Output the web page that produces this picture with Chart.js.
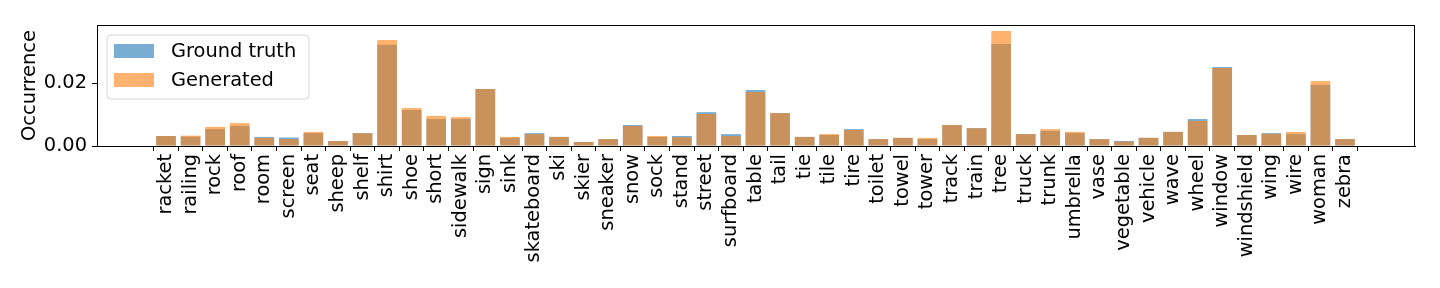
<!DOCTYPE html>
<html>
<head>
<meta charset="utf-8">
<script src="https://cdn.jsdelivr.net/npm/chart.js@4.4.0/dist/chart.umd.min.js"></script>
<style>
html,body{margin:0;padding:0;background:#fff;}
#wrap{width:1440px;height:288px;position:relative;}
</style>
</head>
<body>
<div id="wrap"><canvas id="c" width="1440" height="288"></canvas></div>
<script>
const categories = ["racket","railing","rock","roof","room","screen","seat","sheep","shelf","shirt","shoe","short","sidewalk","sign","sink","skateboard","ski","skier","sneaker","snow","sock","stand","street","surfboard","table","tail","tie","tile","tire","toilet","towel","tower","track","train","tree","truck","trunk","umbrella","vase","vegetable","vehicle","wave","wheel","window","windshield","wing","wire","woman","zebra"];
const groundTruth = [0.0032,0.0030,0.0054,0.0064,0.0029,0.0027,0.0041,0.0016,0.0041,0.0323,0.0115,0.0086,0.0086,0.0182,0.0026,0.0041,0.0029,0.0013,0.0022,0.0067,0.0029,0.0032,0.0108,0.0038,0.0179,0.0105,0.0029,0.0035,0.0054,0.0022,0.0026,0.0022,0.0067,0.0057,0.0325,0.0038,0.0048,0.0041,0.0022,0.0016,0.0026,0.0045,0.0086,0.0252,0.0035,0.0041,0.0038,0.0195,0.0022];
const generated = [0.0032,0.0033,0.0061,0.0073,0.0026,0.0022,0.0045,0.0016,0.0041,0.0338,0.0121,0.0096,0.0092,0.0182,0.0029,0.0038,0.0029,0.0013,0.0022,0.0064,0.0032,0.0028,0.0102,0.0032,0.0172,0.0105,0.0029,0.0038,0.0051,0.0022,0.0026,0.0026,0.0067,0.0057,0.0367,0.0038,0.0054,0.0045,0.0022,0.0014,0.0026,0.0045,0.0080,0.0249,0.0035,0.0039,0.0045,0.0207,0.0022];
const yTicks = [0, 0.02];
const seriesNames = ["Ground truth","Generated"];
const seriesColors = ["rgba(31,119,180,0.6)","rgba(255,127,14,0.6)"];

const FONT = "'DejaVu Sans', sans-serif";
const FS = 19.4;

const toPoints = arr => arr.map((v,i)=>({x:i,y:v}));

const framePlugin = {
  id:'frame',
  afterDatasetsDraw(chart){
    const {ctx, chartArea:a} = chart;
    ctx.save();
    ctx.strokeStyle = '#000';
    ctx.lineWidth = 1;
    ctx.strokeRect(Math.round(a.left)+0.5, Math.round(a.top)+0.5, Math.round(a.right-a.left)-1, Math.round(a.bottom-a.top));
    ctx.restore();
  },
  afterDraw(chart){
    const {ctx, chartArea:a} = chart;
    const x0 = a.left + 10, y0 = a.top + 10, w = 202, h = 64, r = 4;
    ctx.save();
    ctx.beginPath();
    ctx.moveTo(x0+r,y0); ctx.lineTo(x0+w-r,y0); ctx.quadraticCurveTo(x0+w,y0,x0+w,y0+r);
    ctx.lineTo(x0+w,y0+h-r); ctx.quadraticCurveTo(x0+w,y0+h,x0+w-r,y0+h);
    ctx.lineTo(x0+r,y0+h); ctx.quadraticCurveTo(x0,y0+h,x0,y0+h-r);
    ctx.lineTo(x0,y0+r); ctx.quadraticCurveTo(x0,y0,x0+r,y0); ctx.closePath();
    ctx.fillStyle = 'rgba(255,255,255,0.8)';
    ctx.fill();
    ctx.strokeStyle = 'rgba(204,204,204,0.8)';
    ctx.lineWidth = 1;
    ctx.stroke();
    ctx.font = FS + 'px ' + FONT;
    ctx.textBaseline = 'middle';
    ctx.textAlign = 'left';
    chart.data.datasets.forEach((ds,i)=>{
      const cy = y0 + 16 + i*29;
      ctx.fillStyle = ds.backgroundColor;
      ctx.fillRect(x0+7, cy-7, 40, 14);
      ctx.fillStyle = '#000';
      ctx.fillText(ds.label, x0+64, cy+1);
    });
    ctx.restore();
  }
};

new Chart(document.getElementById('c'), {
  type:'bar',
  data:{
    datasets:[
      {label:seriesNames[0], data:toPoints(groundTruth), backgroundColor:seriesColors[0], grouped:false, order:1, categoryPercentage:1, barPercentage:0.8},
      {label:seriesNames[1], data:toPoints(generated), backgroundColor:seriesColors[1], grouped:false, order:0, categoryPercentage:1, barPercentage:0.8}
    ]
  },
  options:{
    responsive:false,
    animation:false,
    devicePixelRatio:1,
    layout:{padding:{left:0,right:25,top:25,bottom:0}},
    plugins:{legend:{display:false}, tooltip:{enabled:false}},
    scales:{
      x:{
        type:'linear',
        min:-2.81, max:50.85,
        offset:false,
        afterBuildTicks(s){ s.ticks = categories.map((_,i)=>({value:i})); },
        afterFit(s){ s.height = 142; },
        ticks:{
          autoSkip:false, maxRotation:90, minRotation:90, padding:3,
          color:'#000', font:{family:FONT, size:FS},
          callback:(v)=>categories[v]
        },
        grid:{display:true, drawOnChartArea:false, drawTicks:true, tickLength:5, color:'#000'},
        border:{display:true, color:'#000'}
      },
      y:{
        min:0, max:0.0386,
        afterBuildTicks(s){ s.ticks = yTicks.map(v=>({value:v})); },
        afterFit(s){ s.width = 97; },
        ticks:{
          padding:5, color:'#000', font:{family:FONT, size:FS},
          callback:(v)=>Number(v).toFixed(2)
        },
        grid:{display:true, drawOnChartArea:false, drawTicks:true, tickLength:5, color:'#000'},
        border:{display:true, color:'#000'},
        title:{display:true, text:'Occurrence', color:'#000', font:{family:FONT, size:FS}, padding:{top:18,bottom:0}}
      }
    }
  },
  plugins:[framePlugin]
});
</script>
</body>
</html>
